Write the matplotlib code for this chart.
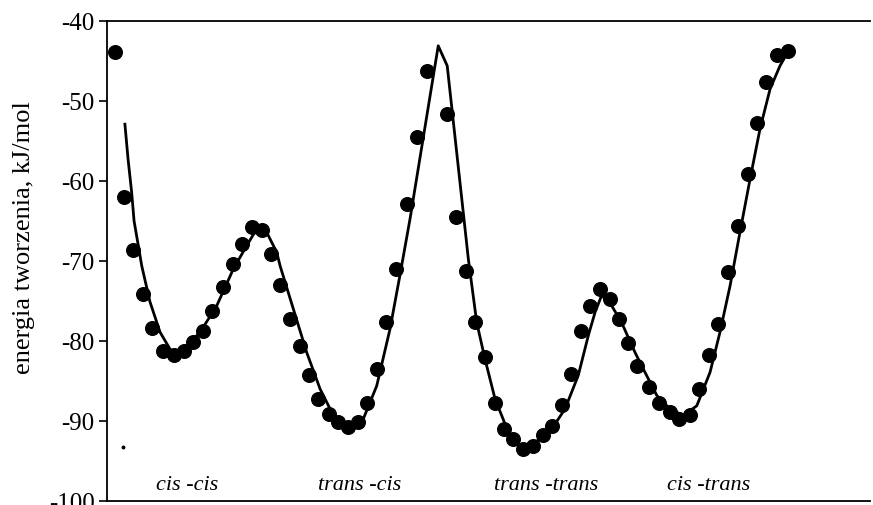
import matplotlib
matplotlib.use("Agg")
import matplotlib.pyplot as plt

# Messpunkte (Kugeln) - Drehwinkel in Grad, Energie in kJ/mol
kat_x = [0, 4.8, 9.8, 14.8, 20.0, 25.8, 31.6, 36.9, 41.9, 46.9,
         51.7, 57.6, 63.0, 67.8, 73.1, 78.8, 83.4, 88.3, 93.6, 99.0,
         103.9, 108.7, 114.6, 119.4, 124.8, 130.1, 134.6, 140.0, 145.0, 150.3,
         156.0, 161.4, 166.7, 177.4, 182.4, 187.8, 192.6, 197.9, 203.3, 208.1,
         213.1, 218.4, 223.4, 228.8, 233.6, 238.9, 243.8, 249.1, 254.1, 259.4,
         264.8, 269.8, 274.6, 279.4, 285.8, 291.1, 296.9, 301.8, 307.6, 312.6,
         317.9, 322.7, 328.1, 333.4, 338.8, 343.2, 348.2, 353.9, 360.2]
energie = [-43.9, -62.0, -68.6, -74.1, -78.4, -81.3, -81.8, -81.3, -80.1, -78.8,
           -76.3, -73.3, -70.4, -67.9, -65.8, -66.1, -69.1, -73.0, -77.2, -80.6,
           -84.3, -87.2, -89.1, -90.1, -90.7, -90.1, -87.7, -83.5, -77.6, -71.0,
           -62.9, -54.5, -46.2, -51.6, -64.5, -71.3, -77.6, -82.0, -87.7, -91.0,
           -92.25, -93.5, -93.1, -91.8, -90.6, -88.0, -84.1, -78.7, -75.6, -73.5,
           -74.7, -77.25, -80.2, -83.1, -85.7, -87.8, -88.9, -89.75, -89.3, -86.0,
           -81.8, -77.9, -71.4, -65.6, -59.1, -52.7, -47.6, -44.3, -43.8]

# Kurve (Anpassung)
kurve_x = [5.3, 7.0, 8.9, 10.2, 11.6, 14.3, 18.7, 24.1, 29.4, 31.6,
           38.4, 45.5, 54.4, 63.3, 70.4, 75.8, 78.6, 81.1, 86.5, 88.3,
           95.4, 102.5, 109.7, 116.8, 123.9, 125.7, 132.8, 140.0, 147.1, 152.4,
           157.8, 172.9, 177.7, 185.5, 189.0, 193.5, 197.9, 203.3, 210.4, 217.5,
           224.7, 233.6, 240.7, 247.8, 253.2, 256.8, 260.3, 265.7, 271.0, 278.1,
           282.6, 289.8, 296.9, 304.0, 311.2, 318.3, 323.6, 329.0, 334.3, 339.7,
           345.0, 350.4, 355.7, 358.4]
kurve_y = [-52.9, -57.3, -61.4, -65.0, -66.9, -70.6, -75.1, -78.9, -81.0, -81.4,
           -80.6, -78.9, -75.6, -71.0, -68.1, -66.0, -65.9, -66.4, -68.9, -70.6,
           -76.0, -81.4, -86.0, -89.3, -91.0, -91.0, -89.75, -85.6, -78.5, -71.8,
           -64.75, -43.1, -45.6, -62.25, -69.75, -77.7, -82.25, -87.25, -91.4, -93.3,
           -92.7, -91.0, -88.5, -84.3, -79.3, -76.4, -74.3, -75.6, -77.7, -81.4,
           -83.5, -86.8, -88.5, -89.3, -88.1, -83.9, -78.9, -73.1, -66.4, -59.75,
           -53.5, -48.5, -45.6, -44.5]

konformere = ["cis -cis", "trans -cis", "trans -trans", "cis -trans"]
konf_x = [38.4, 131.0, 230.5, 317.7]
konf_y = -97.9

plt.rcParams['font.family'] = ['Liberation Serif', 'DejaVu Serif']
plt.rcParams['axes.unicode_minus'] = False

fig = plt.figure(figsize=(8.73, 5.06), dpi=100)
ax = fig.add_axes([107/873, 4/506, 763/873, 480/506])

ax.plot(kurve_x, kurve_y, color='black', lw=2.0, zorder=2)
ax.plot(kat_x, energie, 'o', color='black', ms=9.8, zorder=3)
ax.plot([4.1], [-93.2], 'o', color='black', ms=1.8)   # kleiner Fleck im Original

for name, xx in zip(konformere, konf_x):
    ax.text(xx, konf_y, name, ha='center', va='center', fontsize=16, style='italic')

ax.set_xlim(-4.28, 403.85)
ax.set_ylim(-100, -40)
ax.set_yticks(range(-100, -39, 10))
ax.set_xticks([])
ax.spines['right'].set_visible(False)
for s in ['left', 'top', 'bottom']:
    ax.spines[s].set_linewidth(1.3)
ax.tick_params(axis='y', direction='out', length=6, width=1.2, labelsize=18, pad=3)
ax.set_ylabel('energia tworzenia, kJ/mol', fontsize=19)
ax.yaxis.set_label_coords(-0.094, 0.55)

fig.savefig('out.png', dpi=100)
